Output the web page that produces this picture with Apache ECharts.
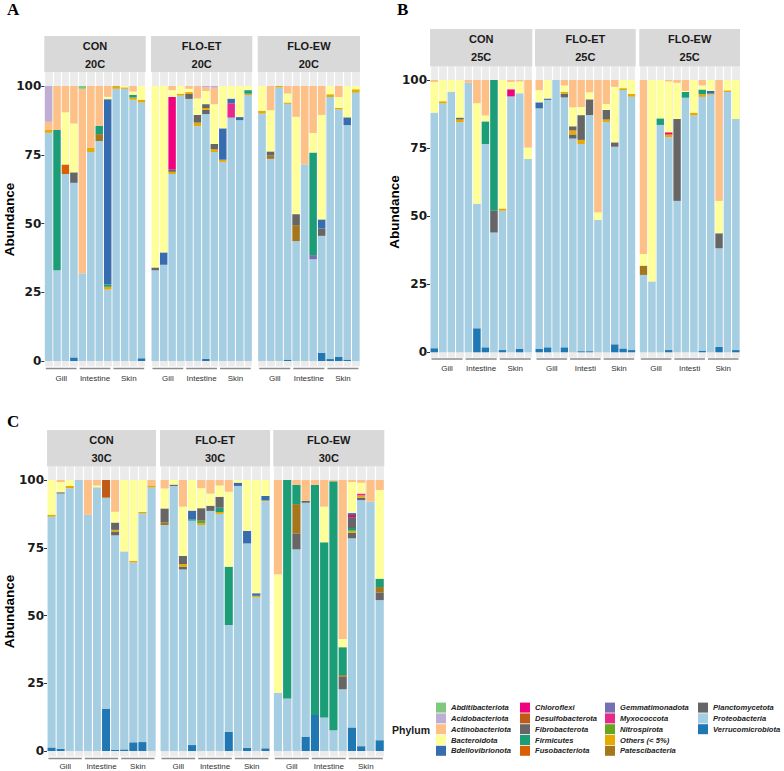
<!DOCTYPE html>
<html>
<head>
<meta charset="utf-8">
<script src="https://cdn.jsdelivr.net/npm/echarts@6.0.0/dist/echarts.min.js"></script>
<style>
  html, body { margin: 0; padding: 0; background: #fff; }
  #main { width: 784px; height: 771px; }
</style>
</head>
<body>
<div id="main"></div>
<script>
// phyla in legend order, with their colours
var phyla = ['Abditibacteriota', 'Acidobacteriota', 'Actinobacteriota', 'Bacteroidota', 'Bdellovibrionota',
  'Chloroflexi', 'Desulfobacterota', 'Fibrobacterota', 'Firmicutes', 'Fusobacteriota',
  'Gemmatimonadota', 'Myxococcota', 'Nitrospirota', 'Others (< 5%)', 'Patescibacteria',
  'Planctomycetota', 'Proteobacteria', 'Verrucomicrobiota'];
var phylumColors = ['#7fc97f', '#beaed4', '#fdc086', '#ffff99', '#386cb0',
  '#f0027f', '#bf5b17', '#666666', '#1b9e77', '#d95f02',
  '#7570b3', '#e7298a', '#66a61e', '#e6ab02', '#a6761d',
  '#666666', '#a6cee3', '#1f78b4'];
var phylumKeys = ['Abditi', 'Acido', 'Actino', 'Bact', 'Bdello', 'Chloro', 'Desulfo', 'Fibro', 'Firm', 'Fuso',
  'Gemma', 'Myxo', 'Nitro', 'Oth', 'Pates', 'Planc', 'Prot', 'Verr'];

// stacking, bottom to top
var stackOrder = ['Verr', 'Prot', 'Planc', 'Pates', 'Oth', 'Nitro', 'Myxo', 'Gemma', 'Fuso', 'Firm',
  'Fibro', 'Desulfo', 'Chloro', 'Bdello', 'Bact', 'Actino', 'Acido', 'Abditi'];

var samples = ['G1', 'G2', 'G3', 'G4', 'I1', 'I2', 'I3', 'I4', 'S1', 'S2', 'S3', 'S4'];
var tissues = ['Gill', 'Intestine', 'Skin'];
var tissuesShort = ['Gill', 'Intesti', 'Skin'];
var treatments = ['CON', 'FLO-ET', 'FLO-EW'];
var temps = ['20C', '25C', '30C'];
var yTicks = [0, 25, 50, 75, 100];

// relative abundance (%) per sample, 12 samples per facet (4 gill, 4 intestine, 4 skin)
var con20 = {
  Verr:   [0, 0, 0, 1.3, 0, 0, 0, 0, 0, 0, 0, 1],
  Prot:   [83, 33, 68, 63.5, 31.8, 76, 80, 26, 99, 99, 95, 93],
  Planc:  [0, 0, 0, 3.8, 0, 0, 0, 0, 0, 0, 0, 0],
  Pates:  [0, 0, 0, 0, 0, 0, 2.5, 0, 0, 0, 0, 0],
  Oth:    [1, 0, 0, 0, 0, 1.5, 0, 1, 1, 0.5, 0.8, 1],
  Fuso:   [0, 0, 3.5, 0, 0, 0, 0, 0, 0, 0, 0, 0],
  Firm:   [0, 51, 0, 0, 0, 0, 3, 0.8, 0, 0, 1, 0],
  Bdello: [0, 0, 0, 0, 0, 0, 0, 67.4, 0, 0, 0, 0],
  Bact:   [0, 0, 19, 17.8, 0, 0, 0, 0.9, 0, 0.5, 1.2, 5],
  Actino: [3, 16, 9.5, 13.6, 67.2, 22.5, 14.5, 3.9, 0, 0, 2, 0],
  Acido:  [13, 0, 0, 0, 0, 0, 0, 0, 0, 0, 0, 0],
  Abditi: [0, 0, 0, 0, 1, 0, 0, 0, 0, 0, 0, 0]
};
var et20 = {
  Verr:   [0, 0, 0, 0, 0, 0, 0.8, 0, 0, 0, 0, 0],
  Prot:   [33, 35, 68, 96.5, 95.3, 85.4, 89, 76, 72.4, 88.5, 87.6, 96.7],
  Planc:  [1, 0, 0, 0, 1.8, 0, 1.5, 0, 0, 0, 0, 0],
  Oth:    [0, 0, 0.8, 0.7, 0.7, 1.3, 0.7, 1, 0.8, 0, 0, 0.5],
  Myxo:   [0, 0, 0, 0, 0, 0, 0, 0, 0, 5.2, 0, 0],
  Firm:   [0, 0, 0, 0, 0, 0, 0, 0, 0, 0, 0, 1.3],
  Fibro:  [0, 0, 0.8, 0, 0, 2.8, 1.4, 1.9, 0, 0, 0, 0],
  Chloro: [0, 0, 26.4, 0, 0, 0, 0, 0, 0, 0, 0, 0],
  Bdello: [0, 4.5, 0, 0, 0, 0, 0, 0, 11.4, 1.7, 1.1, 0],
  Bact:   [66, 60.5, 2.5, 2.8, 1.2, 6, 4.8, 14.5, 15.4, 4.6, 11.3, 1.5],
  Actino: [0, 0, 1.5, 0, 1, 4.5, 1.3, 6, 0, 0, 0, 0],
  Acido:  [0, 0, 0, 0, 0, 0, 0.5, 0.6, 0, 0, 0, 0]
};
var ew20 = {
  Verr:   [0, 0, 0, 0.5, 0, 0, 0, 3, 0.7, 1.5, 0.5, 0],
  Prot:   [90, 73.5, 99.5, 93, 43.6, 71.5, 37, 42.5, 95.3, 90, 85.3, 97.6],
  Planc:  [0, 0, 0, 0, 0, 0, 0, 2.7, 0, 0, 0, 0],
  Pates:  [0, 1.2, 0, 0, 5.8, 0, 0, 0, 0, 0, 0, 0],
  Oth:    [1, 0, 0.5, 0.5, 0, 0, 0, 0, 1, 0.5, 0, 1.2],
  Gemma:  [0, 0, 0, 0, 0, 0, 1.5, 0, 0, 0, 0, 0],
  Firm:   [0, 0, 0, 0, 0, 0, 37.3, 0, 0, 0, 0, 0],
  Fibro:  [0, 1.5, 0, 0, 4, 0, 0, 0, 0, 0, 0, 0],
  Bdello: [0, 0, 0, 0, 0, 0, 0, 3.3, 0, 0, 2.8, 0],
  Bact:   [9, 15, 0, 3.3, 35.4, 0, 7.1, 38, 3, 4, 11.4, 1.2],
  Actino: [0, 8.8, 0, 2.7, 11.2, 28.5, 17.1, 10.5, 0, 4, 0, 0]
};
var con25 = {
  Verr:   [1.5, 0, 0, 0, 0, 8.8, 1.8, 0, 0.8, 0, 1.3, 0],
  Prot:   [86.5, 91.4, 95.7, 84.5, 99, 45.7, 74.7, 44, 51.2, 94, 93.8, 71],
  Planc:  [0, 0, 0, 0, 0, 0, 0, 8, 0, 0, 0, 0],
  Oth:    [0, 0.8, 0, 1, 0, 0, 0, 0, 0.8, 0, 0, 0],
  Firm:   [0, 0, 0, 0, 0, 0, 8.3, 48, 0, 0, 0, 0],
  Fibro:  [0, 0, 0, 0.7, 0, 0, 0, 0, 0, 0, 0, 0],
  Chloro: [0, 0, 0, 0, 0, 0, 0, 0, 0, 2.6, 0, 0],
  Bact:   [11.3, 7.8, 4.3, 13.8, 0, 37, 2.2, 0, 47.2, 2.7, 4.4, 4.2],
  Actino: [0.7, 0, 0, 0, 1, 8.5, 13, 0, 0, 0.7, 0.5, 24.8]
};
var et25 = {
  Verr:   [1.2, 1.8, 0, 1.8, 0, 0.4, 0.4, 0, 0, 2.9, 1.4, 0.8],
  Prot:   [88.4, 90.9, 100, 91.8, 78.5, 76.1, 86.7, 48.6, 84.5, 72.6, 94.9, 93.1],
  Planc:  [0, 0, 0, 1.4, 1.5, 0, 5.8, 0, 0, 1.6, 0, 0],
  Oth:    [0, 0, 0, 0.6, 1.5, 1.5, 0, 0, 1, 0, 0.7, 1],
  Fibro:  [0, 0, 0, 0, 1.5, 9.1, 0, 0, 3.5, 0, 0, 0],
  Bdello: [2.2, 0.5, 0, 0, 0, 0, 0, 0, 0, 0, 0, 0],
  Bact:   [4.5, 6.8, 0, 2.4, 7, 3, 2.6, 2.8, 2.2, 20.4, 3, 5.1],
  Actino: [3.7, 0, 0, 2, 10, 9.9, 4.5, 48.6, 8.8, 2.5, 0, 0]
};
var ew25 = {
  Verr:   [0, 0, 0, 0.8, 0, 0, 0, 0.6, 0, 2, 0, 0.8],
  Prot:   [28.4, 26, 83.5, 78.2, 55.6, 93.5, 87, 93.2, 94.6, 36.2, 95.6, 84.9],
  Planc:  [0, 0, 0, 0, 30.1, 0, 0, 0, 0, 5.5, 0, 0],
  Pates:  [3.4, 0, 0, 0, 0, 0, 0, 0, 0, 0, 0, 0],
  Oth:    [0, 0, 0, 1, 0, 0, 1, 1, 0.4, 0, 0.6, 0],
  Firm:   [0, 0, 2.4, 0, 0, 2.1, 0, 1.7, 0, 0, 0, 0],
  Chloro: [0, 0, 0, 0.8, 0, 0, 0, 0, 0, 0, 0, 0],
  Bdello: [0, 0, 0, 0, 0, 0, 0, 0, 1, 0, 0, 0],
  Bact:   [4.3, 74, 14.1, 18.7, 13.3, 0.4, 12, 1.5, 4, 11.9, 3.8, 14.3],
  Actino: [63.9, 0, 0, 0.5, 1, 4, 0, 2, 0, 44.4, 0, 0]
};
var con30 = {
  Verr:    [1.3, 0.8, 0, 0, 0, 0, 15.5, 0.5, 0.6, 3.2, 3.3, 0],
  Prot:    [85.2, 94.2, 97, 100, 87.2, 97.3, 78, 79.1, 73, 66.4, 84.4, 97.3],
  Planc:   [0, 0.5, 0, 0, 0, 0, 0, 1.4, 0, 0, 0, 0],
  Oth:     [0.7, 0, 0.8, 0, 0, 0, 0, 0.6, 0, 0.6, 0.5, 0.7],
  Fibro:   [0, 0, 0, 0, 0, 0, 0, 2.7, 0, 0, 0, 0],
  Desulfo: [0, 0, 0, 0, 0, 0, 6.5, 0, 0, 0, 0, 0],
  Bact:    [12.8, 3.8, 2.2, 0, 0, 0.7, 0, 4, 26.4, 29.8, 11.8, 0],
  Actino:  [0, 0.7, 0, 0, 12.8, 2, 0, 11.7, 0, 0, 0, 2]
};
var et30 = {
  Verr:   [0, 0, 0, 2.2, 0, 0, 0, 7.1, 0, 1.2, 0, 1],
  Prot:   [83.4, 97.8, 67, 82.8, 83.4, 88.6, 87.5, 39.4, 97.8, 75.4, 56.7, 91.2],
  Planc:  [0, 0.5, 1, 0, 0, 1.9, 0, 0, 0, 0, 0, 0],
  Pates:  [0.9, 0, 0, 0, 0, 0, 0, 0, 0, 0, 0, 0],
  Oth:    [0, 0, 1, 0, 0.6, 0, 0.7, 0, 0, 0, 0.6, 0.3],
  Nitro:  [0, 0, 0, 0, 1, 0, 0, 0, 0, 0, 0, 0],
  Firm:   [0, 0, 0, 0.5, 0, 0, 1.6, 21.5, 0, 0, 0, 0],
  Fibro:  [5.2, 0, 3, 0, 4.6, 0, 4, 0, 0, 0, 0, 0],
  Bdello: [0, 0, 0, 3.2, 0, 0, 0, 0, 1.2, 4.6, 0.9, 1.6],
  Bact:   [7.4, 1.7, 18.2, 11.3, 7.4, 4.5, 4.2, 27.7, 1, 18.8, 41.8, 5.9],
  Actino: [3.1, 0, 9.8, 0, 3, 5, 2, 4.3, 0, 0, 0, 0]
};
var ew30 = {
  Verr:   [0, 0, 0, 5.3, 13.3, 0, 0, 0, 8.7, 1.8, 0, 4],
  Prot:   [21.5, 19.4, 74.4, 86.3, 0, 12.4, 7.7, 22.8, 69.8, 90.8, 92, 51.7],
  Planc:  [0, 0, 5.9, 0.7, 0, 0, 0, 4.6, 2, 0.9, 0, 2.8],
  Pates:  [0, 0, 10.8, 0, 0, 0, 0, 0.6, 0, 0, 0, 2],
  Oth:    [0, 0, 0, 0, 0, 0, 0, 0, 0.8, 0.8, 0, 0],
  Myxo:   [0, 0, 0, 0, 0, 0, 0, 0, 0, 0.7, 0, 0],
  Firm:   [0, 80.6, 7.1, 0, 84.9, 64.6, 91.8, 10.3, 1, 0, 0, 3.1],
  Fibro:  [0, 0, 0, 0, 0, 0, 0, 0, 4, 0, 0, 0],
  Chloro: [0, 0, 0, 0, 0, 0, 0, 0, 0.8, 0, 0, 0],
  Bdello: [0, 0, 0, 0, 0, 0, 0, 0, 0.7, 0, 0, 0],
  Bact:   [43.7, 0, 0, 0, 0, 13.2, 0, 3, 11.5, 4, 0, 32.7],
  Actino: [34.8, 0, 1.8, 7.7, 1.8, 9.8, 0.5, 58.7, 0.7, 1, 8, 3.7]
};

var facetData = [[con20, et20, ew20], [con25, et25, ew25], [con30, et30, ew30]];
var facetTissues = [[tissues, tissues, tissues], [tissues, tissuesShort, tissuesShort], [tissues, tissues, tissues]];

// page layout of the three panels (pixels)
var layout = [
  { letter: 'A', lx: 7, ly: 10, stripTop: 36, top: 72.25, height: 294.25,
    xs: [[44.3, 145.7], [151, 252.3], [257.7, 360]], lineY: 368.5, labelY: 378.5, nameGap: 28 },
  { letter: 'B', lx: 397, ly: 10, stripTop: 29, top: 66.4, height: 291.3,
    xs: [[430, 532.3], [535, 635.7], [639.3, 740]], lineY: 359, labelY: 368.5, nameGap: 29 },
  { letter: 'C', lx: 7, ly: 422, stripTop: 430, top: 466.45, height: 290,
    xs: [[47, 156], [160, 270], [273.3, 384.3]], lineY: 758.5, labelY: 766.5, nameGap: 31 }
];

var chart = echarts.init(document.getElementById('main'), null, { renderer: 'svg' });

var grids = [], xAxes = [], yAxes = [], series = [], graphics = [];
var sansFont = '"Liberation Sans", Arial, sans-serif';

layout.forEach(function (p, pi) {
  graphics.push({
    type: 'text', left: p.lx, top: p.ly - 9,
    style: { text: p.letter, font: 'bold 17px "Liberation Serif", "DejaVu Serif", serif', fill: '#000' }
  });
  p.xs.forEach(function (xr, fi) {
    var idx = pi * 3 + fi;
    var w = xr[1] - xr[0];
    grids.push({
      left: xr[0], top: p.top, width: w, height: p.height,
      show: true, backgroundColor: '#ebebeb', borderWidth: 0, outerBoundsMode: 'none'
    });
    xAxes.push({
      type: 'category', gridIndex: idx, data: samples,
      axisLine: { show: false }, axisTick: { show: false }, axisLabel: { show: false, interval: 0 },
      splitLine: { show: true, interval: 0, lineStyle: { color: '#ffffff', width: 1.2 } }
    });
    yAxes.push({
      type: 'value', gridIndex: idx, min: -2, max: 105,
      axisLine: { show: false }, splitLine: { show: false },
      axisTick: { show: fi === 0, length: 3, customValues: yTicks, lineStyle: { color: '#333' } },
      axisLabel: {
        show: fi === 0, customValues: yTicks, margin: 3,
        fontFamily: '"DejaVu Sans", sans-serif', fontWeight: 'bold', fontSize: 12, color: '#1a1a1a'
      },
      name: fi === 0 ? 'Abundance' : '', nameLocation: 'middle', nameGap: p.nameGap,
      nameMoveOverlap: false,
      nameTextStyle: { fontFamily: sansFont, fontWeight: 'bold', fontSize: 13.5, color: '#000' }
    });

    var d = facetData[pi][fi];
    stackOrder.forEach(function (key) {
      var k = phylumKeys.indexOf(key);
      series.push({
        type: 'bar', name: phyla[k], stack: 'f' + idx,
        xAxisIndex: idx, yAxisIndex: idx,
        data: d[key] || [0, 0, 0, 0, 0, 0, 0, 0, 0, 0, 0, 0],
        barCategoryGap: '12%',
        itemStyle: { color: phylumColors[k] },
        emphasis: { disabled: true },
        silent: true
      });
    });

    // facet strip
    graphics.push({
      type: 'rect', shape: { x: xr[0], y: p.stripTop, width: w, height: p.top - p.stripTop },
      style: { fill: '#d9d9d9' }, silent: true
    });
    graphics.push({
      type: 'text', x: xr[0] + w / 2, y: p.stripTop + 10,
      style: { text: treatments[fi], font: 'bold 11px ' + sansFont, fill: '#1a1a1a', textAlign: 'center', textVerticalAlign: 'middle' }
    });
    graphics.push({
      type: 'text', x: xr[0] + w / 2, y: p.stripTop + 27.5,
      style: { text: temps[pi], font: 'bold 11px ' + sansFont, fill: '#1a1a1a', textAlign: 'center', textVerticalAlign: 'middle' }
    });

    // tissue brackets under each facet
    for (var g = 0; g < 3; g++) {
      var x1 = xr[0] + w * (4 * g) / 12 + 1.5;
      var x2 = xr[0] + w * (4 * g + 4) / 12 - 1.5;
      graphics.push({
        type: 'line', shape: { x1: x1, y1: p.lineY, x2: x2, y2: p.lineY },
        style: { stroke: '#8c8c8c', lineWidth: 1.5 }, silent: true
      });
      graphics.push({
        type: 'text', x: xr[0] + w * (4 * g + 2) / 12, y: p.labelY,
        style: { text: facetTissues[pi][fi][g], font: '8px ' + sansFont, fill: '#333', textAlign: 'center', textVerticalAlign: 'middle' }
      });
    }
  });
});

graphics.push({
  type: 'text', x: 430, y: 730,
  style: { text: 'Phylum', font: 'bold 10.5px ' + sansFont, fill: '#1a1a1a', textAlign: 'right', textVerticalAlign: 'middle' }
});

var legendCols = [436, 520, 605, 698];
var legends = legendCols.map(function (x, c) {
  return {
    orient: 'vertical', left: x, top: 702.6, padding: 0,
    itemWidth: 10, itemHeight: 10, itemGap: 0.8, icon: 'rect',
    selectedMode: false,
    data: phyla.slice(c * 5, c * 5 + 5),
    textStyle: { fontFamily: sansFont, fontStyle: 'italic', fontWeight: 'bold', fontSize: 7.6, color: '#222', lineHeight: 10 }
  };
});

chart.setOption({
  animation: false,
  grid: grids,
  xAxis: xAxes,
  yAxis: yAxes,
  legend: legends,
  series: series,
  graphic: graphics
});
</script>
</body>
</html>
